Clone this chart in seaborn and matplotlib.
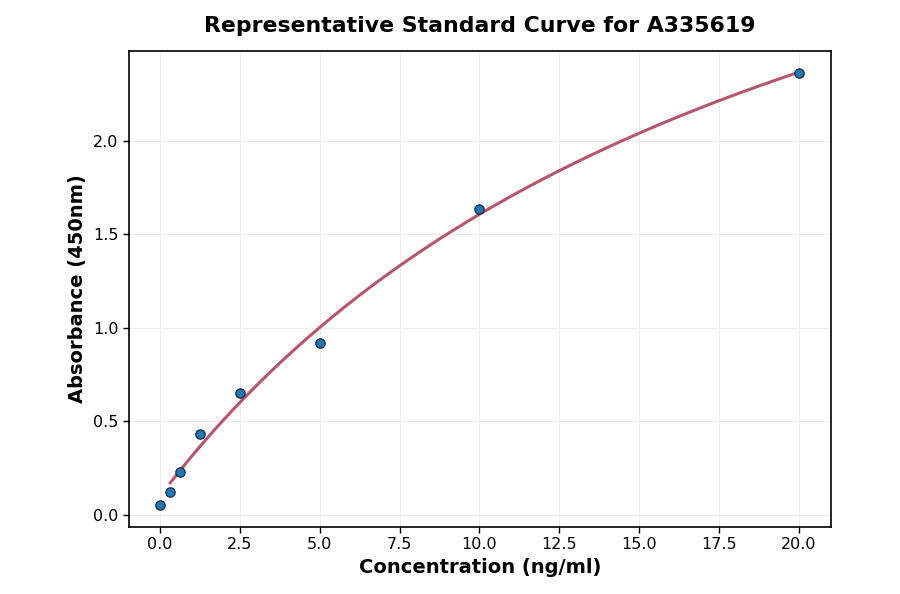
import numpy as np
import pandas as pd
import matplotlib
matplotlib.use("Agg")
import matplotlib.pyplot as plt
import seaborn as sns


# Standard points
concentration = [0.0, 0.3125, 0.625, 1.25, 2.5, 5.0, 10.0, 20.0]
absorbance = [0.053, 0.12, 0.23, 0.43, 0.65, 0.92, 1.636, 2.364]

x_ticks = [0.0, 2.5, 5.0, 7.5, 10.0, 12.5, 15.0, 17.5, 20.0]
y_ticks = [0.0, 0.5, 1.0, 1.5, 2.0]


def fit_curve(x, y):
    # y = top * x / (k + x) + base, linear least squares for each k
    x = np.asarray(x)
    y = np.asarray(y)
    best = None
    for k in np.linspace(1, 80, 800):
        A = np.column_stack([x / (k + x), np.ones_like(x)])
        coef, res, *_ = np.linalg.lstsq(A, y, rcond=None)
        err = np.sum((A @ coef - y) ** 2)
        if best is None or err < best[0]:
            best = (err, k, coef)
    _, k, (top, base) = best
    return lambda t: top * t / (k + t) + base


df = pd.DataFrame({"conc": concentration, "od": absorbance})
model = fit_curve(concentration[1:], absorbance[1:])
xs = np.linspace(concentration[1], concentration[-1], 300)
curve = pd.DataFrame({"conc": xs, "od": model(xs)})

sns.set_style("white")
plt.rcParams.update({"text.color": "black", "axes.labelcolor": "black",
                     "xtick.color": "black", "ytick.color": "black"})
fig, ax = plt.subplots(figsize=(9, 5.94), dpi=100)

sns.lineplot(data=curve, x="conc", y="od", ax=ax, color="#b5566b", linewidth=2.2)
sns.scatterplot(data=df, x="conc", y="od", ax=ax, color="#1f77b4", edgecolor="#1a2a3a",
                linewidth=0.9, s=45, zorder=3)

ax.set_xticks(x_ticks)
ax.set_yticks(y_ticks)
ax.set_xlim(-0.98, 21.0)
ax.set_ylim(-0.064, 2.48)
ax.grid(True, color="#ececec", linewidth=0.8)
ax.set_axisbelow(True)
for s in ax.spines.values():
    s.set_color("black")
    s.set_linewidth(1.2)
ax.tick_params(axis="both", labelsize=11.5, length=4, width=1, color="black", left=True, bottom=True)

ax.set_title("Representative Standard Curve for A335619", fontsize=15.8, fontweight="bold", pad=14)
ax.set_xlabel("Concentration (ng/ml)", fontsize=14, fontweight="bold")
ax.set_ylabel("Absorbance (450nm)", fontsize=14, fontweight="bold")

fig.subplots_adjust(left=0.143, right=0.923, top=0.914, bottom=0.113)
fig.savefig("out.png", dpi=100)
